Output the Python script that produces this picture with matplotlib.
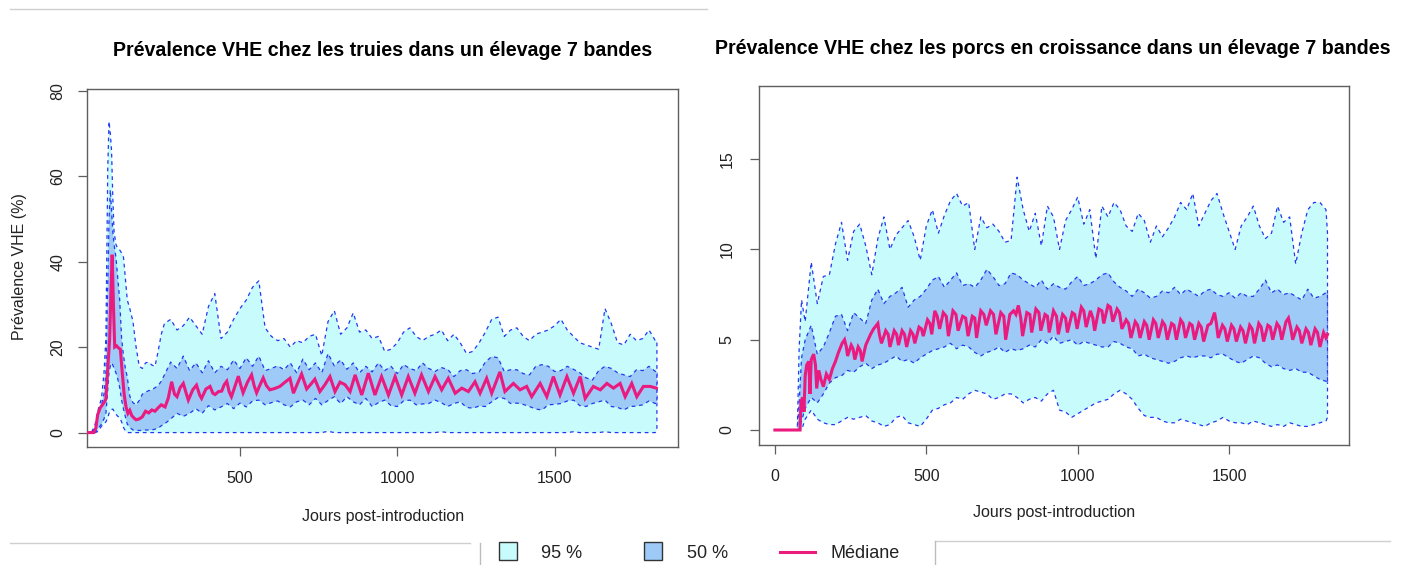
import matplotlib
matplotlib.use("Agg")
import matplotlib.pyplot as plt
from matplotlib.patches import Rectangle
from matplotlib.lines import Line2D

plt.rcParams["font.family"] = ["Liberation Sans", "DejaVu Sans"]

# ---------------- sows (left panel) ----------------
days_l = [14, 30, 40, 50, 60, 68, 74, 80, 84, 88, 92, 96, 100, 106, 112, 118, 124, 130, 136, 142,
          150, 160, 170, 180, 190, 200, 210, 220, 230, 240, 250] + list(range(260, 1821, 20)) + [1825]

u95_l = [0, 0.3, 2.0, 5.5, 8.0, 14, 22, 62, 72.8, 70, 66, 55, 47, 44, 43, 42.7, 42, 41, 36, 31,
         29, 26, 20, 15.5, 15.0, 16.3, 16.5, 15.8, 15.5, 19, 23,
         25.5, 26.5, 24, 25, 27, 25, 23, 29.5, 32.5, 22,
         23.5, 26.5, 29, 31, 34, 35.5, 24.5, 22.5, 21.5, 22,
         20, 21.5, 21, 22.5, 23, 18, 26, 28.5, 23, 24.5,
         28, 23.5, 24, 22, 22.5, 19, 19.5, 21, 23.5, 24.5,
         22.5, 21.5, 22.5, 23, 24, 21.5, 23, 21, 18.5, 19,
         21, 23.5, 26.5, 27, 22.5, 24, 24.5, 22.5, 21.5, 23,
         23.5, 24, 25, 26.5, 24, 22.5, 21, 20.5, 20, 19.5,
         29, 25.5, 21, 20.5, 23, 21.5, 22, 24, 21.5,
         21.5]

u50_l = [0, 0, 1.2, 4.5, 6.5, 9, 14, 35, 50, 56.8, 52, 47, 44, 41, 36, 31, 22, 18, 15, 13,
         8.5, 7.0, 6.5, 7.5, 9.0, 9.5, 9.8, 10, 10.5, 11, 12,
         13.5, 16.5, 15, 17.9, 14.5, 16.3, 14, 16.8, 14, 15.5,
         14.7, 17, 15, 17.5, 15.5, 17.9, 14.5, 15, 15.6, 14.7,
         16.3, 14, 17.2, 14.7, 16.3, 14, 18.5, 15.6, 17, 14.8,
         16.3, 14, 15.5, 14.2, 16.3, 14.5, 15.5, 13.8, 15.9, 15,
         14.5, 16.3, 15, 14.3, 15.2, 14.8, 13.1, 14.5, 14.7, 13.8,
         14.2, 16.5, 17.8, 17.5, 14.3, 14.7, 14.7, 13.8, 13.5, 15.5,
         15.9, 15.5, 14.3, 14.5, 15.5, 14.8, 14, 12.8, 12.3, 14.5,
         15.5, 15, 14, 13.5, 13.1, 14.7, 14.5, 15.5, 14.3,
         14.3]

l50_l = [0, 0, 0, 1.0, 2.0, 3.2, 4.5, 10, 14, 15.5, 16.3, 15.8, 15, 14, 12.5, 10.5, 7.6, 5.5, 3.7, 2.0,
         1.2, 0.6, 0.5, 0.5, 0.5, 0.6, 0.6, 0.6, 0.8, 1.0, 1.6,
         2.0, 3.2, 4.5, 3.8, 4.5, 5.6, 4.5, 6.3, 5.3, 6.0,
         6.8, 5.6, 6.9, 6.0, 7.4, 7.6, 6.5, 7.0, 7.4, 6.5,
         6.0, 7.2, 7.6, 6.5, 8.0, 6.5, 7.5, 8.4, 6.8, 8.4,
         7.2, 6.5, 8.0, 6.1, 7.0, 7.6, 6.3, 6.1, 7.4, 7.6,
         6.5, 6.7, 6.8, 7.6, 7.0, 6.1, 6.8, 7.2, 5.9, 5.7,
         6.2, 6.1, 7.2, 8.2, 8.0, 6.8, 6.9, 6.6, 6.1, 5.5,
         5.3, 6.5, 6.6, 6.8, 7.4, 7.6, 6.3, 6.1, 6.8, 7.2,
         7.6, 6.1, 5.9, 5.3, 6.1, 6.2, 6.5, 7.4, 6.8,
         6.8]

l95_l = [0, 0, 0, 0.3, 1.5, 2.0, 2.5, 3.5, 4.5, 5.0, 5.4, 5.5, 5.0, 4.3, 3.8, 3.5, 2.5, 1.2, 0.4, 0,
         0, 0, 0, 0, 0, 0, 0, 0, 0, 0, 0,
         0, 0, 0, 0, 0, 0, 0, 0, 0, 0,
         0, 0, 0, 0, 0, 0, 0, 0, 0, 0,
         0, 0, 0, 0, 0, 0, 0.3, 0, 0, 0,
         0, 0, 0, 0, 0, 0, 0, 0, 0, 0,
         0, 0, 0, 0, 0.2, 0, 0, 0, 0, 0,
         0, 0, 0, 0, 0, 0, 0, 0, 0, 0,
         0, 0, 0, 0, 0, 0.2, 0, 0, 0, 0,
         0.2, 0, 0, 0, 0, 0, 0, 0, 0,
         0.4]

med_l = [(14, 0), (35, 0), (42, 1.0), (48, 4.2), (56, 5.8), (66, 6.8), (74, 7.8), (80, 15), (86, 22),
         (90, 33), (94, 41.6), (98, 30), (102, 20), (108, 20.3), (114, 19.8), (120, 19.5), (126, 14),
         (132, 9), (138, 6), (144, 4.5), (150, 5.2), (156, 4.0), (162, 3.5), (170, 3.0), (180, 3.2),
         (190, 3.7), (200, 5.0), (210, 4.6), (220, 5.3), (230, 5.0), (240, 5.8), (250, 6.5), (262, 6.0),
         (272, 8.0), (283, 11.9), (292, 9.0), (300, 8.4), (310, 10.5), (320, 11.5), (330, 9.0),
         (336, 7.6), (350, 10.0), (362, 11.1), (372, 8.8), (378, 8.0), (392, 10.2), (405, 10.8),
         (414, 9.2), (421, 8.9), (432, 9.6), (442, 9.7), (450, 11.2), (458, 12.0), (466, 9.5),
         (473, 8.4), (485, 11.0), (495, 13.2), (503, 11.0), (510, 9.3), (524, 11.8), (537, 13.5),
         (545, 11.0), (553, 9.3), (564, 11.2), (574, 12.8), (584, 11.0), (595, 10.0), (610, 10.3),
         (627, 10.8), (640, 11.6), (659, 12.7), (670, 9.2), (683, 11.5), (696, 13.7), (712, 10.2),
         (725, 11.3), (738, 12.5), (754, 9.6), (770, 11.2), (786, 13.1), (802, 9.6), (818, 11.8),
         (834, 11.2), (850, 9.6), (866, 13.5), (887, 8.8), (908, 13.9), (929, 8.8), (950, 13.1),
         (972, 8.8), (993, 13.1), (1014, 8.8), (1035, 13.1), (1056, 9.2), (1077, 13.5), (1099, 9.6),
         (1120, 13.1), (1141, 10.0), (1162, 12.7), (1184, 9.2), (1205, 10.4), (1226, 9.6),
         (1247, 11.9), (1263, 9.2), (1284, 12.7), (1300, 9.2), (1326, 14.2), (1342, 9.6),
         (1369, 11.5), (1390, 10.0), (1411, 10.8), (1427, 8.4), (1454, 11.5), (1475, 8.4),
         (1496, 13.1), (1517, 8.8), (1539, 13.1), (1560, 9.2), (1581, 13.1), (1597, 8.0),
         (1623, 10.8), (1645, 10.0), (1666, 11.5), (1687, 10.4), (1708, 11.5), (1724, 8.4),
         (1745, 11.5), (1761, 8.4), (1782, 10.8), (1804, 10.8), (1823, 10.4)]

# ---------------- growing pigs (right panel) ----------------
days_r = [0, 74, 80, 88] + list(range(100, 1821, 20)) + [1825]

u95_r = [0, 0, 4.5, 7.2,
         6.0, 9.3, 7.0, 8.5, 8.6, 10.3, 11.5, 9.4, 11.0, 11.4,
         10.2, 8.6, 10.6, 11.8, 10.0, 10.8, 11.2, 11.6, 10.7, 9.4,
         11.3, 12.2, 10.9, 11.9, 12.7, 13.1, 12.4, 12.6, 10.0, 11.8,
         11.2, 11.4, 11.0, 10.4, 10.5, 14.0, 12.2, 11.0, 12.0, 10.2,
         12.4, 11.8, 10.0, 11.6, 12.2, 12.9, 11.4, 12.2, 9.5, 12.4,
         11.8, 12.6, 12.2, 11.3, 11.0, 12.0, 11.6, 10.4, 11.3, 10.7,
         11.2, 11.8, 12.6, 12.2, 13.1, 11.3, 12.0, 12.7, 13.1, 12.0,
         11.0, 10.0, 11.3, 11.8, 12.4, 11.3, 10.6, 10.9, 12.4, 11.5,
         11.8, 9.2, 10.9, 12.2, 12.6, 12.6, 12.2,
         10.9]

u50_r = [0, 0, 1.5, 4.0,
         5.0, 5.8, 4.2, 4.6, 5.4, 6.3, 6.4, 5.5, 6.5, 6.2,
         5.9, 7.2, 7.8, 7.0, 7.4, 7.6, 7.9, 6.8, 7.2, 7.4,
         7.8, 8.3, 8.5, 7.9, 8.3, 8.7, 8.0, 8.1, 7.9, 8.3,
         8.9, 8.5, 8.0, 8.1, 8.7, 8.6, 8.3, 8.1, 7.9, 8.3,
         7.8, 8.1, 7.9, 7.8, 8.2, 8.5, 8.0, 8.1, 8.3, 8.6,
         8.7, 8.2, 7.9, 7.7, 7.4, 7.8, 7.6, 7.3, 7.4, 7.7,
         7.6, 7.9, 7.5, 7.8, 7.6, 7.4, 7.7, 7.8, 7.5, 7.4,
         7.6, 7.3, 7.6, 7.4, 7.4, 7.8, 8.3, 7.6, 7.8, 7.5,
         7.6, 7.4, 7.2, 7.8, 7.3, 7.4, 7.6,
         7.6]

l50_r = [0, 0, 0, 0.5,
         1.2, 1.8, 1.5, 2.0, 2.6, 2.9, 3.0, 3.3, 3.2, 3.5,
         3.7, 3.4, 3.6, 3.7, 3.9, 4.1, 3.8, 3.9, 3.7, 4.0,
         4.2, 4.4, 4.5, 4.6, 4.8, 4.5, 4.7, 4.6, 4.3, 4.1,
         4.3, 4.4, 4.6, 4.3, 4.5, 4.4, 4.5, 4.7, 4.6, 5.0,
         4.8, 5.2, 4.8, 4.9, 5.0, 4.7, 4.9, 4.8, 4.7, 4.6,
         4.6, 4.9, 4.8, 4.6, 4.5, 4.1, 4.2, 4.0, 3.9, 3.8,
         3.7, 3.8, 4.0, 4.1, 4.0, 4.1, 4.1, 4.0, 4.2, 4.2,
         4.0, 3.8, 3.7, 3.9, 4.1, 4.0, 3.7, 3.5, 3.6, 3.4,
         3.3, 3.4, 3.2, 3.2, 3.0, 2.8, 2.7,
         2.6]

l95_r = [0, 0, 0, 0,
         0.6, 1.1, 0.6, 0.4, 0.3, 0.3, 0.5, 0.7, 0.6, 0.7,
         0.8, 0.5, 0.4, 0.2, 0.3, 0.7, 0.8, 0.4, 0.3, 0.2,
         0.6, 1.1, 1.2, 1.4, 1.5, 1.8, 1.7, 2.0, 2.2, 2.1,
         2.0, 1.7, 1.8, 2.0, 2.0, 1.8, 1.5, 1.7, 1.8, 1.6,
         2.0, 2.2, 1.1, 1.0, 0.7, 0.9, 1.1, 1.3, 1.5, 1.6,
         1.7, 2.0, 2.2, 2.0, 1.7, 1.2, 0.8, 0.7, 0.7, 0.5,
         0.4, 0.4, 0.6, 0.5, 0.4, 0.3, 0.2, 0.4, 0.5, 0.7,
         0.5, 0.4, 0.4, 0.3, 0.5, 0.4, 0.3, 0.2, 0.3, 0.2,
         0.4, 0.3, 0.2, 0.2, 0.3, 0.4, 0.5,
         0.7]

med_r = [(0, 0), (83, 0), (86, 1.6), (92, 1.8), (96, 1.0), (100, 3.0), (105, 3.6), (112, 3.8),
         (116, 2.0), (120, 3.9), (128, 4.2), (134, 3.6), (138, 2.3), (145, 3.3), (152, 2.8),
         (160, 2.4), (170, 3.1), (180, 2.8), (190, 3.4), (200, 3.8), (210, 4.3), (222, 4.8),
         (230, 5.0), (236, 4.6), (240, 4.1), (252, 4.7), (258, 4.5), (264, 3.9), (275, 4.6),
         (282, 4.4), (288, 3.8), (300, 4.7), (308, 5.0), (316, 5.3), (326, 5.6), (340, 5.9),
         (345, 5.3), (352, 4.8), (366, 5.5), (374, 5.3), (380, 4.6), (394, 5.5), (402, 5.3),
         (408, 4.7), (420, 5.5), (428, 5.3), (435, 4.6), (448, 5.5), (456, 5.3), (462, 4.8),
         (476, 5.7), (484, 5.6), (490, 5.2), (504, 6.1), (512, 5.9), (518, 5.3), (528, 6.6),
         (536, 6.3), (544, 5.6), (556, 6.5), (566, 6.3), (573, 5.2), (588, 6.6), (598, 6.4),
         (605, 5.5), (620, 6.3), (630, 6.2), (638, 5.2), (652, 6.3), (660, 6.2), (666, 5.1),
         (680, 6.6), (690, 6.4), (698, 5.8), (712, 6.6), (722, 6.4), (730, 5.3), (746, 6.5),
         (756, 6.3), (762, 5.0), (776, 6.4), (788, 6.6), (796, 6.4), (804, 6.9), (812, 6.2),
         (818, 5.2), (832, 6.5), (842, 6.4), (848, 5.4), (862, 6.7), (872, 6.5), (878, 5.5),
         (892, 6.4), (900, 6.3), (906, 5.4), (920, 6.6), (930, 6.3), (936, 5.3), (950, 6.4),
         (960, 6.2), (966, 5.4), (982, 6.5), (990, 6.4), (998, 5.6), (1012, 6.8), (1020, 6.6),
         (1028, 5.7), (1042, 6.6), (1050, 6.2), (1056, 5.5), (1070, 6.7), (1080, 6.6), (1086, 5.9),
         (1100, 6.9), (1108, 6.8), (1116, 6.0), (1130, 6.7), (1138, 6.5), (1146, 5.6), (1160, 6.1),
         (1168, 5.9), (1176, 5.1), (1190, 6.0), (1198, 5.8), (1206, 5.1), (1220, 6.0), (1228, 5.8),
         (1236, 5.0), (1250, 6.1), (1258, 5.9), (1266, 5.1), (1280, 6.0), (1288, 5.8), (1296, 5.0),
         (1310, 5.9), (1318, 5.8), (1326, 5.0), (1340, 6.1), (1348, 5.9), (1356, 5.1), (1370, 5.9),
         (1378, 5.8), (1386, 5.0), (1400, 5.9), (1408, 5.7), (1416, 4.9), (1430, 5.8), (1440, 5.9),
         (1452, 6.5), (1458, 5.9), (1464, 5.1), (1478, 5.8), (1486, 5.6), (1494, 4.9), (1508, 5.8),
         (1516, 5.6), (1524, 4.9), (1538, 5.7), (1546, 5.5), (1554, 4.8), (1568, 5.8), (1576, 5.6),
         (1584, 4.8), (1598, 5.9), (1606, 5.7), (1614, 4.9), (1628, 5.8), (1636, 5.7), (1644, 5.0),
         (1658, 5.9), (1666, 5.7), (1674, 5.0), (1688, 6.0), (1696, 6.2), (1704, 5.6), (1710, 5.0),
         (1724, 5.7), (1732, 5.5), (1740, 4.8), (1754, 5.6), (1762, 5.4), (1770, 4.7), (1784, 5.6),
         (1792, 5.4), (1800, 4.6), (1812, 5.4), (1820, 5.1), (1825, 5.3)]

title_l = "Prévalence VHE chez les truies dans un élevage 7 bandes"
title_r = "Prévalence VHE chez les porcs en croissance dans un élevage 7 bandes"
xlabel = "Jours post-introduction"
ylabel = "Prévalence VHE (%)"
legend_labels = ["95 %", "50 %", "Médiane"]

CYAN = "#c8fcfc"
BLUE = "#9dcaf6"
DASH = "#2338f0"
PINK = "#ea1a7f"
AXC = "#5e5e5e"

W, H = 1407, 565


def fx(px):
    return px / W


def fy(py):
    return 1 - py / H


fig = plt.figure(figsize=(W / 100, H / 100), dpi=100)
ax_l = fig.add_axes([fx(87), fy(446.7), 591 / W, 357.4 / H])
ax_r = fig.add_axes([fx(758.7), fy(445), 590.3 / W, 359 / H])


def draw_panel(ax, days, l95, l50, u50, u95, med):
    ax.fill_between(days, l95, u95, facecolor=CYAN, edgecolor=DASH,
                    linestyle=(0, (3, 3)), linewidth=0.9, zorder=1)
    ax.fill_between(days, l50, u50, facecolor=BLUE, edgecolor=DASH,
                    linestyle=(0, (3, 3)), linewidth=0.9, zorder=2)
    md = [d for d, v in med]
    mv = [v for d, v in med]
    ax.plot(md, mv, color=PINK, linewidth=2.2, zorder=3, solid_joinstyle="miter")
    for s in ax.spines.values():
        s.set_color(AXC)
        s.set_linewidth(1.0)
    ax.tick_params(direction="out", length=6.5, width=0.9, color=AXC,
                   labelsize=11.5, labelcolor="#222222")


draw_panel(ax_l, days_l, l95_l, l50_l, u50_l, u95_l, med_l)
ax_l.set_xlim(14, 1892)
ax_l.set_ylim(-3.3, 80.3)
ax_l.set_xticks([500, 1000, 1500])
ax_l.set_yticks([0, 20, 40, 60, 80])
ax_l.set_yticklabels(["0", "20", "40", "60", "80"], rotation=90, va="center")
ax_l.tick_params(axis="x", pad=11)
ax_l.tick_params(axis="y", pad=9)

draw_panel(ax_r, days_r, l95_r, l50_r, u50_r, u95_r, med_r)
ax_r.set_xlim(-53.5, 1896)
ax_r.set_ylim(-0.83, 19.05)
ax_r.set_xticks([0, 500, 1000, 1500])
ax_r.set_yticks([0, 5, 10, 15])
ax_r.set_yticklabels(["0", "5", "10", "15"], rotation=90, va="center")
ax_r.tick_params(axis="x", pad=11)
ax_r.tick_params(axis="y", pad=11)

# titles and axis labels
fig.text(fx(383), fy(50), title_l, ha="center", va="center", fontsize=14.1, fontweight="bold")
fig.text(fx(715), fy(48), title_r, ha="left", va="center", fontsize=14.1, fontweight="bold")
fig.text(fx(383), fy(516), xlabel, ha="center", va="center", fontsize=11.5, color="#222222")
fig.text(fx(1054), fy(513), xlabel, ha="center", va="center", fontsize=11.5, color="#222222")
fig.text(fx(20), fy(267), ylabel, ha="center", va="center", rotation=90, fontsize=11.5,
         color="#222222")

# shared legend strip at the bottom
fig.add_artist(Rectangle((fx(499), fy(560)), 18 / W, 18 / H, facecolor=CYAN,
                         edgecolor="#333333", linewidth=1.0))
fig.text(fx(541), fy(553), legend_labels[0], ha="left", va="center", fontsize=13, color="#222222")
fig.add_artist(Rectangle((fx(644), fy(560)), 18 / W, 18 / H, facecolor=BLUE,
                         edgecolor="#333333", linewidth=1.0))
fig.text(fx(687), fy(553), legend_labels[1], ha="left", va="center", fontsize=13, color="#222222")
fig.add_artist(Line2D([fx(780), fx(815)], [fy(552), fy(552)], color=PINK, linewidth=2.2))
fig.text(fx(831), fy(553), legend_labels[2], ha="left", va="center", fontsize=13, color="#222222")

# thin frame lines around the legend strip
gray = "#cfcfcf"
fig.add_artist(Line2D([fx(10), fx(707)], [fy(9), fy(9)], color=gray, linewidth=1.0))
fig.add_artist(Line2D([fx(10), fx(470)], [fy(543), fy(543)], color=gray, linewidth=1.0))
fig.add_artist(Line2D([fx(480), fx(480)], [fy(543), fy(565)], color="#bdbdbd", linewidth=1.0))
fig.add_artist(Line2D([fx(935), fx(1390)], [fy(541), fy(541)], color=gray, linewidth=1.0))
fig.add_artist(Line2D([fx(935), fx(935)], [fy(541), fy(565)], color="#bdbdbd", linewidth=1.0))

fig.savefig("out.png", dpi=100)
